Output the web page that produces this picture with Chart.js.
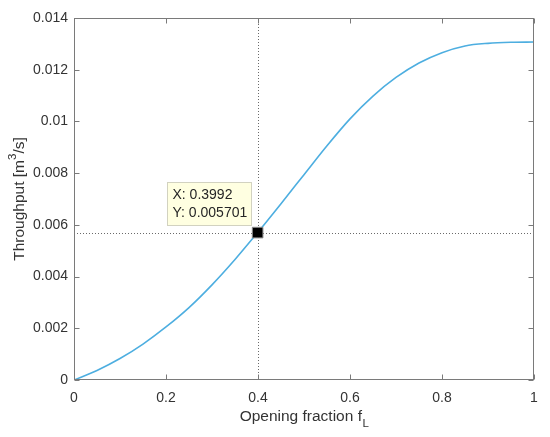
<!DOCTYPE html>
<html>
<head>
<meta charset="utf-8">
<script src="https://cdn.jsdelivr.net/npm/chart.js@4/dist/chart.umd.min.js"></script>
<style>
html,body{margin:0;padding:0;background:#fff;}
#wrap{width:550px;height:437px;}
</style>
</head>
<body>
<div id="wrap"><canvas id="c" width="550" height="437"></canvas></div>
<script>
// ---- data ----
const openingFraction = [0,0.05,0.1,0.15,0.2,0.25,0.3,0.35,0.4,0.45,0.5,0.55,0.6,0.65,0.7,0.75,0.8,0.85,0.9,0.95,1];
const throughput = [0,0.00037,0.00083,0.00139,0.00205,0.00280,0.00368,0.00466,0.00572,0.00682,0.00794,0.00906,0.01010,0.01098,0.01170,0.01226,0.01266,0.01292,0.01302,0.01306,0.01307];
const tipX = [0.3992];
const tipY = [0.005701];
const xTickValues = [0,0.2,0.4,0.6,0.8,1];
const xTickLabels = ["0","0.2","0.4","0.6","0.8","1"];
const yTickValues = [0,0.002,0.004,0.006,0.008,0.01,0.012,0.014];
const yTickLabels = ["0","0.002","0.004","0.006","0.008","0.01","0.012","0.014"];
const xTitle = "Opening fraction f";
const xTitleSub = "L";
const yTitleParts = ["Throughput [m", "3", "/s]"];
const tipLines = ["X: " + tipX[0], "Y: " + tipY[0]];

const FONT = "Liberation Sans, Arial, Helvetica, sans-serif";
const TXT = "#333333";
const FRAME = "#7a7a7a";

const linePts = openingFraction.map((x,i)=>({x:x,y:throughput[i]}));
const tipPts = tipX.map((x,i)=>({x:x,y:tipY[i]}));

const decor = {
  id:'decor',
  beforeDatasetsDraw(chart){
    const {ctx, chartArea:a, scales:{x,y}} = chart;
    ctx.save();
    ctx.strokeStyle = "#6a6a6a";
    ctx.lineWidth = 1;
    ctx.setLineDash([1,2]);
    const px = Math.round(x.getPixelForValue(tipX[0]))+0.5;
    const py = Math.round(y.getPixelForValue(tipY[0]))+0.5;
    ctx.beginPath();
    ctx.moveTo(px, a.top); ctx.lineTo(px, a.bottom);
    ctx.moveTo(a.left, py); ctx.lineTo(a.right, py);
    ctx.stroke();
    ctx.restore();
  },
  afterDatasetsDraw(chart){
    const {ctx, chartArea:a, scales:{x,y}} = chart;
    ctx.save();
    ctx.strokeStyle = FRAME;
    ctx.lineWidth = 1;
    ctx.setLineDash([]);
    const L = Math.round(a.left)+0.5, R = Math.round(a.right)-0.5, T = Math.round(a.top)+0.5, B = Math.round(a.bottom)-0.5;
    ctx.strokeRect(L, T, R-L, B-T);
    const tl = 5;
    ctx.beginPath();
    xTickValues.forEach(v=>{
      const p = Math.round(x.getPixelForValue(v))+0.5;
      ctx.moveTo(p,B); ctx.lineTo(p,B-tl);
      ctx.moveTo(p,T); ctx.lineTo(p,T+tl);
    });
    yTickValues.forEach(v=>{
      const p = Math.round(y.getPixelForValue(v))+0.5;
      ctx.moveTo(L,p); ctx.lineTo(L+tl,p);
      ctx.moveTo(R,p); ctx.lineTo(R-tl,p);
    });
    ctx.stroke();

    ctx.fillStyle = TXT;
    ctx.font = "15.5px " + FONT;
    ctx.textBaseline = "middle";
    ctx.textAlign = "left";
    const subFont = "11.5px " + FONT;
    const w1 = ctx.measureText(xTitle).width;
    ctx.font = subFont;
    const w2 = ctx.measureText(xTitleSub).width;
    const cx = (a.left + a.right)/2;
    const sx = cx - (w1 + w2)/2;
    const ty = 417;
    ctx.font = "15.5px " + FONT;
    ctx.fillText(xTitle, sx, ty);
    ctx.font = subFont;
    ctx.fillText(xTitleSub, sx + w1 + 0.5, ty + 7);

    ctx.save();
    ctx.translate(20, (a.top + a.bottom)/2);
    ctx.rotate(-Math.PI/2);
    ctx.font = "15.5px " + FONT;
    const p0 = ctx.measureText(yTitleParts[0]).width;
    const p2 = ctx.measureText(yTitleParts[2]).width;
    ctx.font = subFont;
    const p1 = ctx.measureText(yTitleParts[1]).width;
    let ox = -(p0+p1+p2)/2;
    ctx.font = "15.5px " + FONT;
    ctx.fillText(yTitleParts[0], ox, 0);
    ctx.font = subFont;
    ctx.fillText(yTitleParts[1], ox + p0, -7);
    ctx.font = "15.5px " + FONT;
    ctx.fillText(yTitleParts[2], ox + p0 + p1, 0);
    ctx.restore();

    const mx = x.getPixelForValue(tipX[0]);
    const my = y.getPixelForValue(tipY[0]);
    const bx = Math.round(mx - 91)+0.5, by = Math.round(my - 51)+0.5, bw = 84, bh = 43;
    ctx.fillStyle = "#ffffe1";
    ctx.strokeStyle = "#d2d2c0";
    ctx.fillRect(bx, by, bw, bh);
    ctx.strokeRect(bx, by, bw, bh);
    ctx.fillStyle = "#262626";
    ctx.font = "14px " + FONT;
    ctx.textAlign = "left";
    ctx.textBaseline = "middle";
    ctx.fillText(tipLines[0], bx + 5, by + 12.5);
    ctx.fillText(tipLines[1], bx + 5, by + 31);
    ctx.restore();
  }
};

new Chart(document.getElementById('c'), {
  type: 'scatter',
  data: {
    datasets: [
      {
        data: linePts,
        showLine: true,
        borderColor: '#4daee0',
        borderWidth: 1.6,
        pointRadius: 0,
        cubicInterpolationMode: 'monotone',
        order: 2
      },
      {
        data: tipPts,
        showLine: false,
        pointStyle: 'rect',
        pointRadius: 7.5,
        backgroundColor: '#000000',
        borderColor: '#8a8a8a',
        borderWidth: 1,
        order: 1
      }
    ]
  },
  options: {
    responsive: false,
    animation: false,
    devicePixelRatio: 1,
    layout: { padding: { left: 0, right: 16, top: 18, bottom: 0 } },
    plugins: { legend: { display: false }, tooltip: { enabled: false } },
    scales: {
      x: {
        type: 'linear', min: 0, max: 1,
        afterBuildTicks: s => { s.ticks = xTickValues.map(v=>({value:v})); },
        afterFit: s => { s.height = 57; },
        ticks: {
          callback: (v,i) => xTickLabels[i],
          color: TXT, font: { family: FONT, size: 14 }, padding: 10, maxRotation: 0
        },
        grid: { display: false, drawTicks: false },
        border: { display: false }
      },
      y: {
        type: 'linear', min: 0, max: 0.014,
        afterBuildTicks: s => { s.ticks = yTickValues.map(v=>({value:v})); },
        afterFit: s => { s.width = 74; },
        ticks: {
          callback: (v,i) => yTickLabels[i],
          color: TXT, font: { family: FONT, size: 14 }, padding: 6
        },
        grid: { display: false, drawTicks: false },
        border: { display: false }
      }
    }
  },
  plugins: [decor]
});
</script>
</body>
</html>
